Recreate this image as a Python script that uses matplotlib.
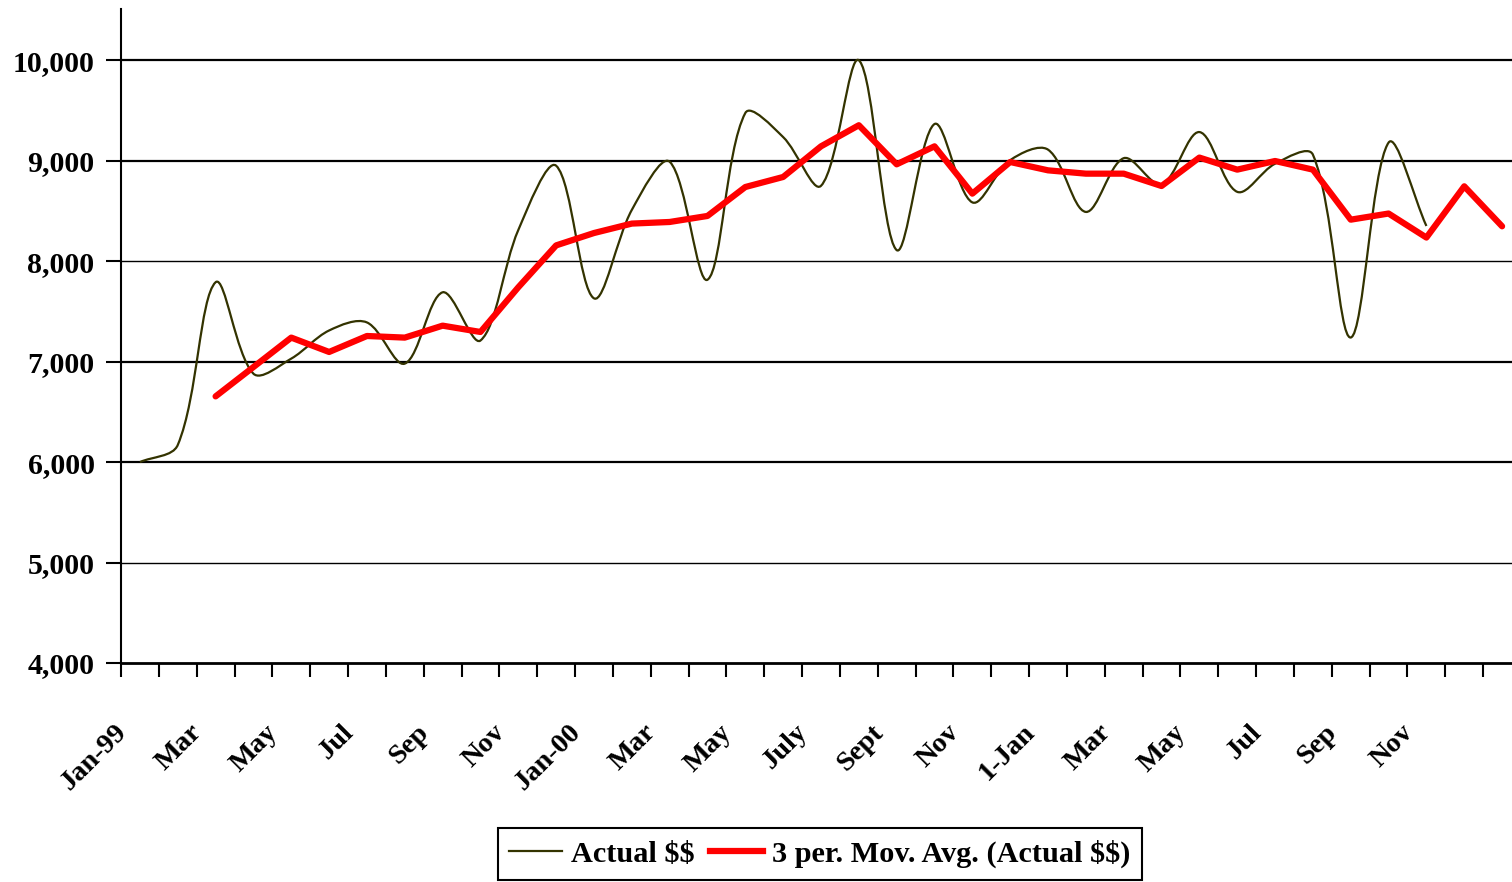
import numpy as np
import matplotlib
matplotlib.use("Agg")
import matplotlib.pyplot as plt
from matplotlib.path import Path
from matplotlib.patches import PathPatch
from matplotlib.lines import Line2D

plt.rcParams['text.parse_math'] = False

# ---------------- data ----------------
categories = ['Jan-99', 'Feb', 'Mar', 'Apr', 'May', 'Jun', 'Jul', 'Aug', 'Sep', 'Oct', 'Nov', 'Dec',
              'Jan-00', 'Feb', 'Mar', 'Apr', 'May', 'Jun', 'July', 'Aug', 'Sept', 'Oct', 'Nov', 'Dec',
              '1-Jan', 'Feb', 'Mar', 'Apr', 'May', 'Jun', 'Jul', 'Aug', 'Sep', 'Oct', 'Nov', 'Dec', 'Jan-02']
tick_labels = ['Jan-99', 'Mar', 'May', 'Jul', 'Sep', 'Nov', 'Jan-00', 'Mar', 'May', 'July', 'Sept',
               'Nov', '1-Jan', 'Mar', 'May', 'Jul', 'Sep', 'Nov', '']
actual = [6000, 6170, 7790, 6880, 7030, 7310, 7390, 6980, 7690, 7210, 8310, 8950,
          7630, 8510, 8990, 7815, 9475, 9235, 8750, 10000, 8110, 9365, 8585, 9005,
          9110, 8490, 9025, 8765, 9285, 8690, 8970, 9060, 7240, 9180, 8350]
mov_avg_start = 2
mov_avg = [6654, 6946, 7239, 7096, 7255, 7239, 7358, 7295, 7740, 8157, 8280, 8374,
           8390, 8450, 8738, 8838, 9143, 9353, 8964, 9143, 8672, 8987, 8904, 8871,
           8871, 8748, 9031, 8911, 8997, 8911, 8413, 8474, 8235, 8745, 8347]
yticks = [4000, 5000, 6000, 7000, 8000, 9000, 10000]
series_names = ['Actual $$', '3 per. Mov. Avg. (Actual $$)']

# ---------------- style ----------------
W, H, DPI = 1512, 882, 100
FONT = 'Liberation Serif'
OLIVE = '#333300'
RED = '#ff0000'

fig = plt.figure(figsize=(W / DPI, H / DPI), dpi=DPI)
fig.patch.set_facecolor('white')
ax = fig.add_axes([121 / W, 1 - 663 / H, 1400 / W, (663 - 9) / H])
ax.set_xlim(-0.5, len(categories) - 0.5)
ax.set_ylim(4000, 10510)

# grid lines
grid_w = {5000: 1.0, 8000: 1.0}
for v in yticks[1:]:
    ax.axhline(v, color='black', lw=grid_w.get(v, 1.6), zorder=1)

# smoothed "Actual" line: Excel-like bezier smoothing through the data points,
# control arms scaled by neighbouring segment lengths in screen space
xa = np.arange(len(actual), dtype=float)
ya = np.array(actual, dtype=float)
P = np.column_stack([xa, ya])
D = ax.transData.transform(P)          # screen coords for lengths only
n = len(P)
verts = [tuple(P[0])]
codes = [Path.MOVETO]
for i in range(n - 1):
    i0, i1, i2, i3 = max(i - 1, 0), i, i + 1, min(i + 2, n - 1)
    d01 = np.hypot(*(D[i1] - D[i0]))
    d12 = np.hypot(*(D[i2] - D[i1]))
    d23 = np.hypot(*(D[i3] - D[i2]))
    f1 = (d12 / (d01 + d12)) / 3.0
    f2 = (d12 / (d12 + d23)) / 3.0
    c1 = P[i1] + (P[i2] - P[i0]) * f1
    c2 = P[i2] - (P[i3] - P[i1]) * f2
    verts += [tuple(c1), tuple(c2), tuple(P[i2])]
    codes += [Path.CURVE4] * 3
ax.add_patch(PathPatch(Path(verts, codes), fill=False, edgecolor=OLIVE, lw=1.6,
                       transform=ax.transData, zorder=3, capstyle='butt', joinstyle='round'))

# moving average line
xm = np.arange(mov_avg_start, mov_avg_start + len(mov_avg))
ax.plot(xm, mov_avg, color=RED, lw=4.5, solid_capstyle='round', solid_joinstyle='round',
        zorder=4, clip_on=False)

# spines
for s in ['top', 'right']:
    ax.spines[s].set_visible(False)
ax.spines['left'].set_linewidth(1.5)
ax.spines['bottom'].set_linewidth(2.0)
ax.spines['left'].set_zorder(5)
ax.spines['bottom'].set_zorder(5)

# y axis
ax.set_yticks(yticks)
ax.set_yticklabels([f'{v:,}' for v in yticks], fontfamily=FONT, fontweight='bold', fontsize=21.5)
ax.tick_params(axis='y', length=11, width=1.5, direction='out', pad=8, colors='black')

# x axis: tick marks between categories, labels every second category
ax.set_xticks(np.arange(-0.5, len(categories), 1.0))
ax.set_xticklabels([])
ax.tick_params(axis='x', which='major', length=10, width=1.5, direction='out')
label_pos = np.arange(0, len(categories), 2) - 0.22
ax.set_xticks(label_pos, minor=True)
ax.set_xticklabels(tick_labels, minor=True, rotation=45, ha='right', va='top',
                   fontfamily=FONT, fontweight='bold', fontsize=20.5)
ax.tick_params(axis='x', which='minor', length=0, pad=41)

# legend
handles = [Line2D([], [], color=OLIVE, lw=1.6), Line2D([], [], color=RED, lw=4.5)]
leg = fig.legend(handles, series_names, loc='center', bbox_to_anchor=(820 / W, 1 - 854 / H),
                 ncol=2, frameon=True, fancybox=False, edgecolor='black', framealpha=1,
                 prop={'family': FONT, 'weight': 'bold', 'size': 21.8},
                 handlelength=1.75, handletextpad=0.3, columnspacing=0.5, borderpad=0.38,
                 borderaxespad=0)
leg.get_frame().set_linewidth(1.5)

fig.savefig('out.png', dpi=DPI, facecolor='white')
